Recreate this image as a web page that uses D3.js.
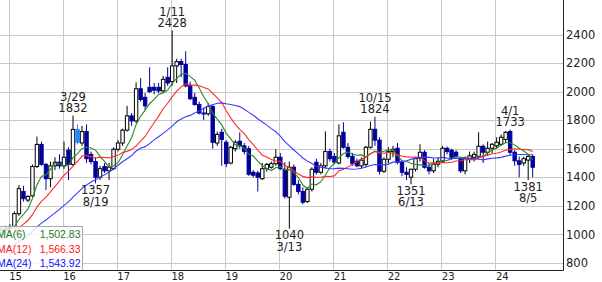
<!DOCTYPE html>
<html>
<head>
<meta charset="utf-8">
<script src="https://cdn.jsdelivr.net/npm/d3@7"></script>
<style>
  body { margin: 0; background: #fff; }
  svg { display: block; font-family: "DejaVu Sans", sans-serif; }
</style>
</head>
<body>
<div id="chart"></div>
<script>
// monthly candles, Nov 2014 .. Sep 2024
const months = d3.timeMonth.range(new Date(2014, 10, 1), new Date(2024, 9, 1));

// closes before the first visible month (only feed the moving averages)
const priorCloses = [600, 640, 700, 760, 800, 780, 820, 830, 850, 860, 880, 900,
  890, 880, 900, 920, 940, 960, 980, 1000, 1010, 1030, 1040];

const open = [1000, 1030, 1040, 1050, 1145, 1300, 1240, 1270, 1475, 1630, 1490, 1390,
  1480, 1505, 1480, 1590, 1490, 1735, 1640, 1720, 1560, 1510, 1400, 1475,
  1445, 1460, 1596, 1640, 1730, 1830, 1795, 2020, 1960, 2030, 2030, 2030,
  2005, 2100, 2070, 2180, 2210, 2190, 2040, 1960, 1910, 1850, 1845, 1895,
  1640, 1715, 1645, 1500, 1600, 1652, 1620, 1600, 1435, 1430, 1390, 1460,
  1470, 1495, 1540, 1455, 1260, 1470, 1350, 1300, 1230, 1316, 1505, 1435,
  1480, 1580, 1545, 1500, 1715, 1610, 1547, 1512, 1480, 1490, 1610, 1736,
  1660, 1442, 1526, 1580, 1603, 1505, 1435, 1400, 1456, 1533, 1575, 1470,
  1445, 1492, 1512, 1603, 1590, 1575, 1530, 1445, 1526, 1540, 1547, 1617,
  1575, 1603, 1620, 1631, 1665, 1720, 1575, 1515, 1500, 1520, 1545];
const high = [1050, 1060, 1070, 1160, 1345, 1340, 1275, 1490, 1685, 1650, 1500, 1510,
  1540, 1560, 1650, 1610, 1832, 1770, 1760, 1770, 1580, 1540, 1480, 1500,
  1500, 1610, 1660, 1740, 1900, 1850, 2065, 2095, 1990, 2170, 2060, 2060,
  2110, 2170, 2428, 2230, 2230, 2282, 2070, 1990, 1930, 1890, 1920, 1910,
  1720, 1740, 1660, 1620, 1660, 1715, 1640, 1620, 1450, 1445, 1500, 1500,
  1510, 1596, 1570, 1505, 1510, 1490, 1380, 1330, 1330, 1470, 1530, 1500,
  1722, 1600, 1570, 1771, 1785, 1640, 1570, 1530, 1540, 1620, 1790, 1824,
  1680, 1540, 1610, 1620, 1640, 1520, 1470, 1460, 1540, 1631, 1590, 1500,
  1530, 1540, 1620, 1615, 1600, 1590, 1545, 1545, 1580, 1580, 1715, 1630,
  1650, 1640, 1680, 1700, 1725, 1733, 1590, 1545, 1545, 1560, 1560];
const low = [980, 1000, 1010, 1040, 1130, 1230, 1225, 1260, 1465, 1480, 1310, 1330,
  1450, 1460, 1460, 1380, 1480, 1630, 1620, 1500, 1490, 1357, 1380, 1430,
  1380, 1450, 1580, 1620, 1720, 1760, 1780, 1930, 1870, 1990, 1980, 1990,
  1990, 2040, 2040, 2060, 2100, 2030, 1940, 1900, 1840, 1800, 1830, 1600,
  1620, 1480, 1470, 1490, 1580, 1600, 1560, 1410, 1400, 1300, 1380, 1440,
  1460, 1480, 1450, 1250, 1040, 1340, 1280, 1210, 1220, 1300, 1420, 1420,
  1460, 1510, 1490, 1490, 1600, 1530, 1480, 1470, 1460, 1470, 1600, 1620,
  1420, 1430, 1500, 1540, 1490, 1407, 1380, 1351, 1440, 1510, 1460, 1420,
  1430, 1470, 1500, 1560, 1520, 1530, 1430, 1420, 1500, 1510, 1530, 1500,
  1550, 1570, 1600, 1620, 1640, 1555, 1480, 1400, 1480, 1381, 1400];
const close = [1030, 1040, 1050, 1145, 1320, 1250, 1265, 1475, 1630, 1490, 1390, 1480,
  1505, 1480, 1540, 1490, 1735, 1645, 1720, 1530, 1510, 1400, 1460, 1445,
  1470, 1596, 1640, 1730, 1830, 1795, 2020, 1945, 1900, 2000, 2010, 2005,
  2086, 2060, 2180, 2210, 2190, 2040, 1950, 1910, 1850, 1845, 1895, 1645,
  1700, 1665, 1495, 1610, 1645, 1620, 1580, 1421, 1414, 1400, 1460, 1490,
  1495, 1540, 1460, 1267, 1470, 1350, 1300, 1225, 1316, 1456, 1435, 1480,
  1580, 1530, 1505, 1690, 1610, 1545, 1495, 1480, 1520, 1610, 1736, 1660,
  1442, 1526, 1580, 1596, 1505, 1435, 1420, 1456, 1530, 1575, 1470, 1445,
  1492, 1512, 1603, 1580, 1540, 1545, 1445, 1530, 1550, 1560, 1617, 1575,
  1603, 1631, 1645, 1680, 1715, 1575, 1515, 1490, 1530, 1545, 1470];

const yearLabels = ['15', '16', '17', '18', '19', '20', '21', '22', '23', '24'];
const priceTicks = [800, 1000, 1200, 1400, 1600, 1800, 2000, 2200, 2400];
const maPeriods = [6, 12, 24];
const maLegendValues = ['1,502.83', '1,566.33', '1,543.92'];

// high / low markers
const marks = [
  { i: 16, kind: 'high', date: '3/29' },
  { i: 21, kind: 'low', date: '8/19' },
  { i: 38, kind: 'high', date: '1/11' },
  { i: 64, kind: 'low', date: '3/13' },
  { i: 83, kind: 'high', date: '10/15' },
  { i: 91, kind: 'low', date: '6/13' },
  { i: 113, kind: 'high', date: '4/1' },
  { i: 117, kind: 'low', date: '8/5' }
];

const W = 602, H = 282;
const plotW = 563, plotH = 270;
const upColor = '#000', downColor = '#00009a', pickColor = '#1e8cff';
const maColors = ['#2a8a2a', '#ff2a2a', '#3a3aff'];
const legendColors = ['#1f7a1f', '#ff2020', '#1010ff'];
const picked = 17;

const data = months.map((m, i) => ({
  i, month: m, o: open[i], h: high[i], l: low[i], c: close[i]
}));

const x = d3.scaleLinear().domain([0, data.length - 1]).range([0.9, 532.7]);
const y = d3.scaleLinear().domain([800, 2400]).range([262.9, 34.5]);

const svg = d3.select('#chart').append('svg')
  .attr('width', W)
  .attr('height', H);

svg.append('clipPath').attr('id', 'plot-clip')
  .append('rect').attr('width', plotW).attr('height', plotH);

const plot = svg.append('g').attr('clip-path', 'url(#plot-clip)');

// grid
const janIdx = data.filter(d => d.month.getMonth() === 0).map(d => d.i);

plot.append('g').selectAll('line.h')
  .data(priceTicks)
  .join('line')
  .attr('x1', 0).attr('x2', plotW)
  .attr('y1', d => Math.round(y(d)) + 0.5).attr('y2', d => Math.round(y(d)) + 0.5)
  .attr('stroke', '#c8c8c8');

plot.append('g').selectAll('line.v')
  .data(janIdx)
  .join('line')
  .attr('x1', d => Math.round(x(d) - 1.2) + 0.5).attr('x2', d => Math.round(x(d) - 1.2) + 0.5)
  .attr('y1', 0).attr('y2', plotH)
  .attr('stroke', '#c8c8c8');

// candles
const bodyW = 3.4;
const candle = plot.append('g').selectAll('g')
  .data(data)
  .join('g');

candle.append('line')
  .attr('x1', d => x(d.i)).attr('x2', d => x(d.i))
  .attr('y1', d => y(d.h)).attr('y2', d => y(d.l))
  .attr('stroke', d => d.i === picked ? pickColor : (d.c >= d.o ? upColor : downColor))
  .attr('stroke-width', 1);

candle.append('rect')
  .attr('x', d => x(d.i) - bodyW / 2)
  .attr('y', d => y(Math.max(d.o, d.c)))
  .attr('width', bodyW)
  .attr('height', d => Math.max(1, Math.abs(y(d.o) - y(d.c))))
  .attr('fill', d => d.i === picked ? pickColor : (d.c >= d.o ? '#fff' : downColor))
  .attr('stroke', d => d.i === picked ? pickColor : (d.c >= d.o ? upColor : downColor))
  .attr('stroke-width', 1);

// moving averages
const allCloses = priorCloses.concat(close);
const offset = priorCloses.length;
maPeriods.forEach((p, k) => {
  const ma = data.map(d => ({
    i: d.i,
    v: d3.mean(allCloses.slice(d.i + offset - p + 1, d.i + offset + 1))
  }));
  plot.append('path')
    .datum(ma)
    .attr('fill', 'none')
    .attr('stroke', maColors[k])
    .attr('stroke-width', 1.1)
    .attr('d', d3.line().x(d => x(d.i)).y(d => y(d.v)));
});

// high / low labels
const fmt = d3.format('d');
const markG = svg.append('g')
  .attr('font-size', 11.5)
  .attr('fill', '#222')
  .attr('text-anchor', 'middle');

marks.forEach(m => {
  const d = data[m.i];
  const lines = m.kind === 'high'
    ? [[m.date, y(d.h) - 19], [fmt(d.h), y(d.h) - 7.5]]
    : [[fmt(d.l), y(d.l) + 6.5], [m.date, y(d.l) + 18]];
  lines.forEach(([t, cy]) => {
    markG.append('text')
      .attr('x', x(d.i))
      .attr('y', cy)
      .attr('dy', '0.36em')
      .text(t);
  });
});

// legend
const legend = svg.append('g')
  .attr('font-family', '"Liberation Sans", Arial, sans-serif')
  .attr('font-size', 10.5);
legend.append('rect')
  .attr('x', -2).attr('y', 226.5)
  .attr('width', 84.5).attr('height', 44)
  .attr('fill', '#fff').attr('fill-opacity', 0.82)
  .attr('stroke', '#a8a8a8');

maPeriods.forEach((p, k) => {
  const cy = 234.5 + k * 14.3;
  legend.append('text')
    .attr('x', -3).attr('y', cy).attr('dy', '0.36em')
    .attr('fill', legendColors[k])
    .text(`MA(${p})`);
  legend.append('text')
    .attr('x', 80.5).attr('y', cy).attr('dy', '0.36em')
    .attr('text-anchor', 'end')
    .attr('fill', legendColors[k])
    .text(maLegendValues[k]);
});

// frame
svg.append('line')
  .attr('x1', 0).attr('x2', plotW + 0.5)
  .attr('y1', plotH + 0.5).attr('y2', plotH + 0.5)
  .attr('stroke', '#222');
svg.append('line')
  .attr('x1', plotW + 0.5).attr('x2', plotW + 0.5)
  .attr('y1', 0).attr('y2', plotH + 0.5)
  .attr('stroke', '#222');

// right price axis
const yAxis = d3.axisRight(y)
  .tickValues(priceTicks)
  .tickFormat(d3.format('d'))
  .tickSize(0)
  .tickPadding(2.5);

svg.append('g')
  .attr('transform', `translate(${plotW + 0.5},0)`)
  .call(yAxis)
  .call(g => g.select('.domain').remove())
  .call(g => g.selectAll('text')
    .attr('font-family', '"DejaVu Sans", sans-serif')
    .attr('font-size', 11.5)
    .attr('fill', '#222'));

// bottom year labels
svg.append('g').selectAll('text')
  .data(janIdx)
  .join('text')
  .attr('x', d => x(d) + 5.6)
  .attr('y', 276.5)
  .attr('dy', '0.36em')
  .attr('text-anchor', 'middle')
  .attr('font-size', 10)
  .attr('fill', '#222')
  .text((d, k) => yearLabels[k]);
</script>
</body>
</html>
